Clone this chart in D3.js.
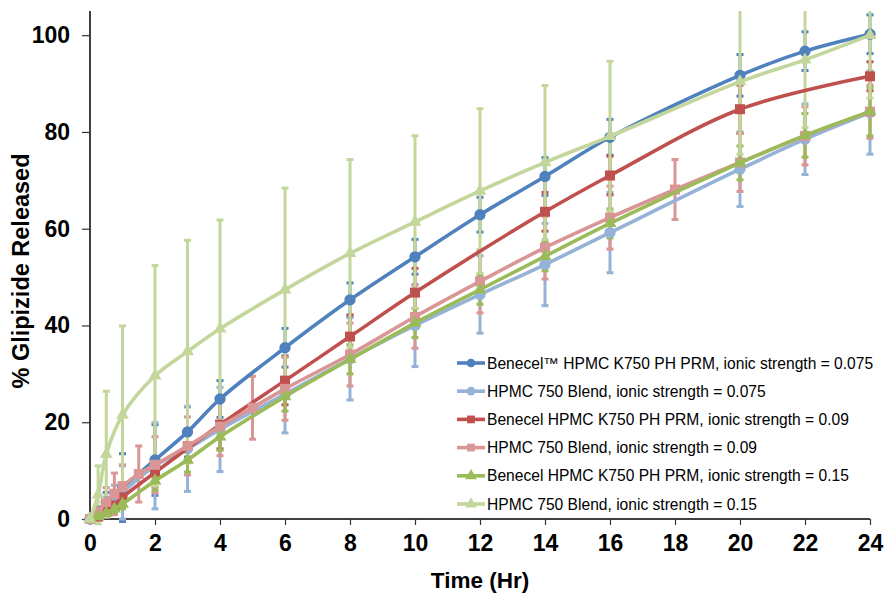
<!DOCTYPE html>
<html>
<head>
<meta charset="utf-8">
<script src="https://cdn.jsdelivr.net/npm/d3@7"></script>
<style>
    body { margin: 0; background: #ffffff; }
    svg { display: block; font-family: "Liberation Sans", Arial, sans-serif; }
</style>
</head>
<body>
<div class="chartContainer"></div>
<script>
// Dissolution data (time in hours, % released, +/- SD)

const seriesNames = [
    "Benecel™ HPMC K750 PH PRM, ionic strength = 0.075",
    "HPMC 750 Blend, ionic strength = 0.075",
    "Benecel HPMC K750 PH PRM, ionic strength = 0.09",
    "HPMC 750 Blend, ionic strength = 0.09",
    "Benecel HPMC K750 PH PRM, ionic strength = 0.15",
    "HPMC 750 Blend, ionic strength = 0.15"
];

const timesK750_075 = [0, 0.25, 0.5, 1, 2, 3, 4, 6, 8, 10, 12, 14, 16, 20, 22, 24];
const meansK750_075 = [0, 1.5, 3.5, 6.5, 12.2, 18.0, 24.8, 35.4, 45.3, 54.2, 62.9, 70.8, 78.9, 91.7, 96.7, 100.2];
const sdK750_075 = [0, 1, 2, 7, 7.3, 5.2, 3.8, 4, 3.5, 3.6, 3.6, 3.9, 3.7, 4.3, 4, 4];

const timesBlend_075 = [0, 0.25, 0.5, 0.75, 1, 2, 3, 4, 6, 8, 10, 12, 14, 16, 20, 22, 24];
const meansBlend_075 = [0, 1, 2.5, 4, 5.5, 11, 14.5, 18.5, 25.8, 33.1, 40.0, 46.4, 52.6, 59.2, 72.3, 78.5, 84.0];
const sdBlend_075 = [0, 1, 2, 3, 5.5, 8.9, 8.8, 8.7, 8, 8.5, 8.5, 8, 8.5, 8.3, 7.7, 7.3, 8.6];

const timesK750_09 = [0, 0.25, 0.5, 0.75, 1, 2, 4, 6, 8, 10, 14, 16, 20, 24];
const meansK750_09 = [0, 0.5, 1.5, 2.8, 4.5, 9.6, 19.5, 28.6, 37.7, 46.8, 63.5, 71.0, 84.7, 91.5];
const sdK750_09 = [0, 0.5, 1, 1.5, 2, 3, 5, 5, 4.5, 5, 4, 4, 5, 3];

const timesBlend_09 = [0, 0.25, 0.5, 0.75, 1, 1.5, 2, 3, 4, 5, 6, 8, 10, 12, 14, 16, 18, 20, 22, 24];
const meansBlend_09 = [0, 1.5, 3.5, 5.2, 6.8, 9.3, 11.2, 15.1, 19.1, 23, 26.9, 34, 41.8, 49.1, 56.1, 62.3, 68.1, 73.7, 79.2, 84.2];
const sdBlend_09 = [0, 1, 3, 4.3, 4.4, 5.8, 5.8, 6, 6, 6.5, 6.5, 6.5, 6.5, 6.5, 6.5, 6.5, 6.2, 6, 6, 5.5];

const timesK750_15 = [0, 0.25, 0.5, 0.75, 1, 2, 3, 4, 6, 8, 10, 12, 14, 16, 20, 22, 24];
const meansK750_15 = [0, 0.5, 1.2, 2.1, 3.1, 7.9, 12.2, 17.0, 25.3, 33.0, 40.5, 47.4, 54.3, 61.1, 73.6, 79.3, 84.2];
const sdK750_15 = [0, 0.3, 0.6, 0.8, 1, 2, 2.5, 2.8, 3, 3, 3, 3, 3, 3, 3.5, 4.5, 5];

const timesBlend_15 = [0, 0.25, 0.5, 1, 2, 3, 4, 6, 8, 10, 12, 14, 16, 20, 22, 24];
const meansBlend_15 = [0, 5, 13.4, 21.5, 29.6, 34.6, 39.3, 47.4, 54.9, 61.4, 67.8, 73.7, 79.1, 90.4, 94.9, 100];
const sdBlend_15 = [0, 6, 13, 18.4, 22.8, 23, 22.5, 21, 19.4, 17.8, 17, 15.9, 15.5, 15, 14, 13];

const xTicks = [0, 2, 4, 6, 8, 10, 12, 14, 16, 18, 20, 22, 24];
const yTicks = [0, 20, 40, 60, 80, 100];

const colors = ["#4f81bd", "#95b3d7", "#c0504d", "#d99694", "#9bbb59", "#c3d69b"];
const shapes = ["circle", "circle", "square", "square", "triangle", "triangle"];

function buildSeries(times, means, sds){
    return times.map((t, i) => ({ t: t, v: means[i], sd: sds[i] }));
}

function main(){
    const series = [
        buildSeries(timesK750_075, meansK750_075, sdK750_075),
        buildSeries(timesBlend_075, meansBlend_075, sdBlend_075),
        buildSeries(timesK750_09, meansK750_09, sdK750_09),
        buildSeries(timesBlend_09, meansBlend_09, sdBlend_09),
        buildSeries(timesK750_15, meansK750_15, sdK750_15),
        buildSeries(timesBlend_15, meansBlend_15, sdBlend_15)
    ];

    const width = 884;
    const height = 593;
    const left = 90, right = 870, top = 11, bottom = 519;

    const svg = d3.select(".chartContainer").append("svg")
        .attr("width", width)
        .attr("height", height);

    const x = d3.scaleLinear().domain([0, 24]).range([left, right]);
    const y = d3.scaleLinear().domain([0, 105]).range([bottom, top]);

    svg.append("defs").append("clipPath")
        .attr("id", "plotClip")
        .append("rect")
        .attr("x", left - 10)
        .attr("y", top)
        .attr("width", right - left + 20)
        .attr("height", bottom - top + 10);

    // ----
    // Axes
    // ----

    const yAxis = svg.append("g")
        .attr("transform", `translate(${left},0)`)
        .call(d3.axisLeft(y).tickValues(yTicks).tickSize(8).tickPadding(12));

    const xAxis = svg.append("g")
        .attr("transform", `translate(0,${bottom})`)
        .call(d3.axisBottom(x).tickValues(xTicks).tickSize(6).tickPadding(10));

    for (const axis of [xAxis, yAxis]){
        axis.select(".domain").attr("stroke", "#000").attr("stroke-width", 1.5);
        axis.selectAll(".tick line").attr("stroke", "#333").attr("stroke-width", 1.2);
        axis.selectAll(".tick text")
            .attr("fill", "#000")
            .style("font-family", "'Liberation Sans', Arial, sans-serif")
            .style("font-size", "23px")
            .style("font-weight", "700");
    }
    // extend y domain line to the top of the plot
    yAxis.select(".domain").attr("d", `M0,${top}V${bottom}`);
    xAxis.select(".domain").attr("d", `M${left},0H${right}`);

    svg.append("text")
        .attr("x", (left + right) / 2)
        .attr("y", 588)
        .attr("text-anchor", "middle")
        .style("font-size", "22.5px")
        .style("font-weight", "700")
        .text("Time (Hr)");

    svg.append("text")
        .attr("transform", `translate(29,${(top + bottom) / 2 + 6}) rotate(-90)`)
        .attr("text-anchor", "middle")
        .style("font-size", "23.5px")
        .style("font-weight", "700")
        .text("% Glipizide Released");

    // ----------
    // Error bars
    // ----------

    const plot = svg.append("g").attr("clip-path", "url(#plotClip)");

    series.forEach((data, i) => {
        const g = plot.append("g");
        const withErr = data.filter(d => d.sd > 0);

        g.selectAll(".bar")
            .data(withErr)
            .join("line")
            .attr("x1", d => x(d.t))
            .attr("x2", d => x(d.t))
            .attr("y1", d => y(d.v + d.sd))
            .attr("y2", d => y(d.v - d.sd))
            .attr("stroke", colors[i])
            .attr("stroke-width", 3);

        for (const sign of [1, -1]){
            g.selectAll(null)
                .data(withErr)
                .join("line")
                .attr("x1", d => x(d.t) - 3.5)
                .attr("x2", d => x(d.t) + 3.5)
                .attr("y1", d => y(d.v + sign * d.sd))
                .attr("y2", d => y(d.v + sign * d.sd))
                .attr("stroke", colors[i])
                .attr("stroke-width", 3);
        }
    });

    // -----------------
    // Lines and markers
    // -----------------

    const line = d3.line()
        .x(d => x(d.t))
        .y(d => y(d.v))
        .curve(d3.curveCatmullRom.alpha(0.5));

    const symbolFor = (shape, size) => {
        if (shape === "circle") return d3.symbol(d3.symbolCircle, size)();
        if (shape === "square") return d3.symbol(d3.symbolSquare, size)();
        return d3.symbol(d3.symbolTriangle, size)();
    };

    series.forEach((data, i) => {
        plot.append("path")
            .datum(data)
            .attr("d", line)
            .attr("fill", "none")
            .attr("stroke", colors[i])
            .attr("stroke-width", 3.6);

        const size = shapes[i] === "circle" ? 100 : (shapes[i] === "square" ? 100 : 72);

        plot.append("g")
            .selectAll("path")
            .data(data)
            .join("path")
            .attr("transform", d => `translate(${x(d.t)},${y(d.v)})`)
            .attr("d", symbolFor(shapes[i], size))
            .attr("fill", colors[i]);
    });

    // ------
    // Legend
    // ------

    const legend = svg.append("g");
    const rowY = i => 363 + i * 28.2;

    seriesNames.forEach((name, i) => {
        legend.append("line")
            .attr("x1", 457)
            .attr("x2", 485)
            .attr("y1", rowY(i))
            .attr("y2", rowY(i))
            .attr("stroke", colors[i])
            .attr("stroke-width", 3.6);

        legend.append("path")
            .attr("transform", `translate(471,${rowY(i)})`)
            .attr("d", symbolFor(shapes[i], 60))
            .attr("fill", colors[i]);

        legend.append("text")
            .attr("x", 487)
            .attr("y", rowY(i) + 5.5)
            .attr("fill", "#000")
            .style("font-size", "15.6px")
            .text(name);
    });
}

main()
</script>
</body>
</html>
